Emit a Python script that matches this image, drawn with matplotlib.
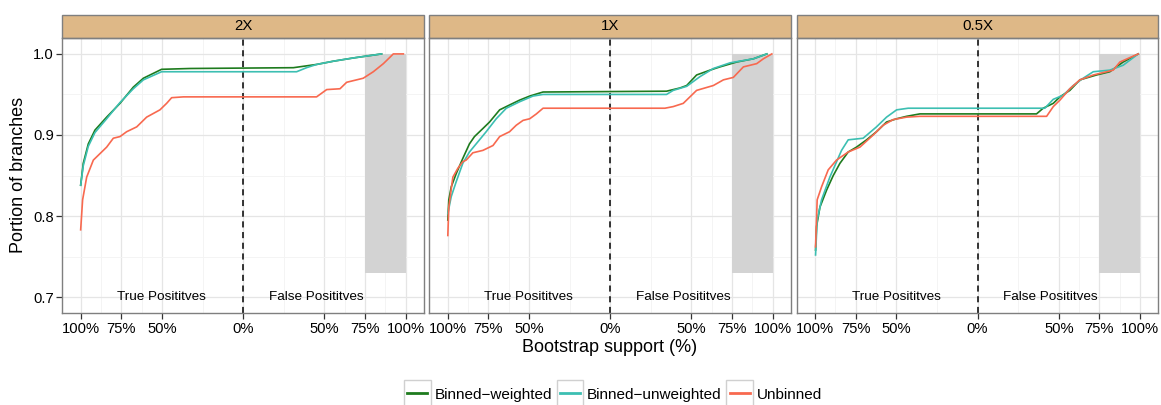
import matplotlib.pyplot as plt
from matplotlib.patches import Rectangle
from matplotlib.lines import Line2D
from matplotlib.legend_handler import HandlerLine2D

plt.rcParams['font.family'] = ['Liberation Sans', 'DejaVu Sans']

# facets and series
panels = ['2X', '1X', '0.5X']
series = ['Binned\u2212weighted', 'Binned\u2212unweighted', 'Unbinned']
colors = ['#1e7b1e', '#3cbfb2', '#f8694f']

# x: -100 = 100% support true positives, 0 = 0%, +100 = 100% support false positives
tick_pos = [-100, -75, -50, 0, 50, 75, 100]
tick_labels = ['100%', '75%', '50%', '0%', '50%', '75%', '100%']

# 2X
x_2x_bw = [-100, -98.4, -95.3, -91.2, -84, -75.8, -67.6, -61.4, -50.2, -32.7, 30.9, 45.2, 55.5, 67.8, 85.2]
y_2x_bw = [0.838, 0.865, 0.889, 0.906, 0.922, 0.939, 0.959, 0.970, 0.981, 0.982, 0.983, 0.987, 0.991, 0.995, 1.0]
x_2x_bu = [-100, -98.4, -95.3, -91.2, -84, -75.8, -67.6, -61.4, -50.2, 32.9, 39.0, 45.2, 55.5, 67.8, 85.2]
y_2x_bu = [0.838, 0.862, 0.886, 0.903, 0.920, 0.940, 0.957, 0.968, 0.978, 0.978, 0.983, 0.987, 0.991, 0.995, 1.0]
x_2x_ub = [-100, -98.8, -96.3, -92.2, -84, -79.9, -75.8, -71.7, -65.5, -59.4, -51.2, -47.1, -44, -36.8,
           45.2, 51.4, 59.6, 63.7, 73.9, 80.1, 86.3, 90.4, 92.4, 98.6]
y_2x_ub = [0.783, 0.820, 0.848, 0.869, 0.885, 0.896, 0.898, 0.904, 0.910, 0.922, 0.931, 0.939, 0.946, 0.947,
           0.947, 0.956, 0.957, 0.965, 0.970, 0.978, 0.988, 0.996, 1.0, 1.0]

# 1X
x_1x_bw = [-99.9, -99.3, -97.8, -94.8, -90.7, -86.6, -83.5, -78.3, -74.2, -68, -61.9, -55.7, -49.5, -41.3,
           34.7, 43, 47.1, 53.2, 61.5, 67.6, 77.9, 88.2, 96.4]
y_1x_bw = [0.795, 0.820, 0.836, 0.852, 0.871, 0.889, 0.898, 0.908, 0.916, 0.931, 0.937, 0.943, 0.948, 0.953,
           0.954, 0.958, 0.961, 0.974, 0.980, 0.984, 0.990, 0.994, 1.0]
x_1x_bu = [-99.9, -97.8, -94.8, -90.7, -86.6, -80.4, -76.3, -70.1, -63.9, -55.7, -47.5, -41.3,
           34.7, 38.8, 47.1, 55.3, 63.5, 73.8, 88.2, 96.4]
y_1x_bu = [0.803, 0.824, 0.842, 0.865, 0.879, 0.894, 0.904, 0.920, 0.933, 0.941, 0.948, 0.950,
           0.950, 0.955, 0.960, 0.972, 0.982, 0.989, 0.994, 1.0]
x_1x_ub = [-99.9, -99.3, -96.8, -93.7, -90.7, -88.6, -84.5, -78.3, -72.1, -68, -61.9, -57.8, -53.6, -49.5,
           -45.4, -41.3, 33.7, 38.8, 45, 49.1, 53.2, 63.5, 69.7, 75.8, 82, 90.2, 94.3, 99.5]
y_1x_ub = [0.776, 0.811, 0.848, 0.859, 0.867, 0.869, 0.878, 0.881, 0.887, 0.898, 0.904, 0.912, 0.918, 0.920,
           0.926, 0.933, 0.933, 0.935, 0.939, 0.947, 0.955, 0.961, 0.968, 0.971, 0.984, 0.988, 0.994, 1.0]

# 0.5X
x_05x_bw = [-99.7, -99.1, -97, -92.9, -88.8, -84.7, -79.6, -74.5, -68.3, -62.2, -56, -49.8, -43.7, -35.5,
            36.3, 40.4, 46.6, 50.7, 56.8, 63, 73.2, 81.4, 89.6, 98.9]
y_05x_bw = [0.758, 0.787, 0.811, 0.832, 0.850, 0.865, 0.879, 0.885, 0.894, 0.904, 0.916, 0.920, 0.923, 0.926,
            0.926, 0.933, 0.939, 0.947, 0.955, 0.968, 0.974, 0.978, 0.990, 1.0]
x_05x_bu = [-99.7, -98.7, -96, -90.9, -83.7, -79.6, -70.4, -62.2, -56, -49.8, -42.7,
            41.4, 46.6, 52.7, 58.9, 65, 71.2, 81.4, 89.6, 98.9]
y_05x_bu = [0.752, 0.795, 0.820, 0.848, 0.881, 0.894, 0.896, 0.910, 0.922, 0.931, 0.933,
            0.933, 0.944, 0.949, 0.961, 0.970, 0.978, 0.980, 0.986, 1.0]
x_05x_ub = [-99.7, -98.7, -96, -91.9, -86.8, -79.6, -72.4, -64.2, -58.1, -51.9, -43.7, -35.5,
            42.5, 46.6, 50.7, 56.8, 63, 71.2, 83.5, 87.6, 98.9]
y_05x_ub = [0.762, 0.820, 0.836, 0.857, 0.869, 0.879, 0.885, 0.900, 0.912, 0.919, 0.922, 0.923,
            0.923, 0.935, 0.943, 0.957, 0.968, 0.974, 0.980, 0.990, 1.0]

curves = [
    [(x_2x_bw, y_2x_bw), (x_2x_bu, y_2x_bu), (x_2x_ub, y_2x_ub)],
    [(x_1x_bw, y_1x_bw), (x_1x_bu, y_1x_bu), (x_1x_ub, y_1x_ub)],
    [(x_05x_bw, y_05x_bw), (x_05x_bu, y_05x_bu), (x_05x_ub, y_05x_ub)],
]


class BoxedLine(HandlerLine2D):
    # ggplot style legend key: grey framed box with a short line
    def create_artists(self, legend, orig_handle, xdescent, ydescent, width, height, fontsize, trans):
        box = Rectangle((-xdescent, -ydescent - 0.45 * height), width, height * 1.9,
                        facecolor='white', edgecolor='#d0d0d0', lw=1.0, transform=trans)
        line = Line2D([-xdescent + 0.12 * width, -xdescent + 0.88 * width],
                      [height / 2 - ydescent, height / 2 - ydescent],
                      color=orig_handle.get_color(), lw=2.0, transform=trans)
        return [box, line]


W, H = 1161, 405
fig = plt.figure(figsize=(W / 100, H / 100), dpi=100)

lefts = [62.3, 429.3, 796.7]
pw = 361.7
top_px, bot_px = 37.7, 313.3
strip_h = 22.7

for i, name in enumerate(panels):
    ax = fig.add_axes([lefts[i] / W, 1 - bot_px / H, pw / W, (bot_px - top_px) / H])
    ax.set_xlim(-111.3, 111.3)
    ax.set_ylim(0.680, 1.020)

    ax.set_xticks(tick_pos)
    ax.set_xticklabels(tick_labels, fontsize=10.6)
    ax.set_xticks([-87.5, -62.5, -25, 25, 62.5, 87.5], minor=True)
    ax.set_yticks([0.7, 0.8, 0.9, 1.0])
    ax.set_yticks([0.75, 0.85, 0.95], minor=True)
    ax.grid(True, which='major', color='#e5e5e5', lw=0.9)
    ax.grid(True, which='minor', color='#f3f3f3', lw=0.6)
    ax.set_axisbelow(True)
    ax.tick_params(which='minor', length=0)
    ax.tick_params(which='major', length=4, width=0.9, color='#333333', pad=2, labelcolor='black')
    if i == 0:
        ax.set_yticklabels(['0.7', '0.8', '0.9', '1.0'], fontsize=10.6)
    else:
        ax.tick_params(axis='y', which='major', length=0, labelleft=False)

    for s in ax.spines.values():
        s.set_color('#7f7f7f')
        s.set_linewidth(1.0)

    ax.add_patch(Rectangle((75, 0.73), 25, 0.27, facecolor='#d3d3d3', edgecolor='none', zorder=1))
    ax.axvline(0, color='black', lw=1.1, ls=(0, (4, 3)), zorder=2)

    for (xs, ys), c in zip(curves[i], colors):
        ax.plot(xs, ys, color=c, lw=1.2, zorder=3)

    ax.text(-50, 0.70, 'True Posititves', ha='center', va='center', fontsize=9.7)
    ax.text(45, 0.70, 'False Posititves', ha='center', va='center', fontsize=9.7)

    # facet strip
    sh = strip_h / (bot_px - top_px)
    ax.add_patch(Rectangle((0, 1), 1, sh, transform=ax.transAxes, facecolor='#deb887',
                           edgecolor='#7f7f7f', lw=1.0, clip_on=False))
    ax.text(0.5, 1 + sh / 2, name, transform=ax.transAxes, ha='center', va='center', fontsize=10.8)

fig.text(18.5 / W, 1 - 175 / H, 'Portion of branches', rotation=90, ha='center', va='center', fontsize=13)
fig.text(610 / W, 1 - 348 / H, 'Bootstrap support (%)', ha='center', va='center', fontsize=13)

handles = [Line2D([], [], color=c) for c in colors]
fig.legend(handles, series, loc='center', bbox_to_anchor=(613 / W, 1 - 394 / H), ncol=3, frameon=False,
           fontsize=11, handler_map={Line2D: BoxedLine()}, handlelength=1.75, handleheight=1.0,
           handletextpad=0.25, columnspacing=0.3, borderpad=0)

fig.savefig('out.png', dpi=100)
